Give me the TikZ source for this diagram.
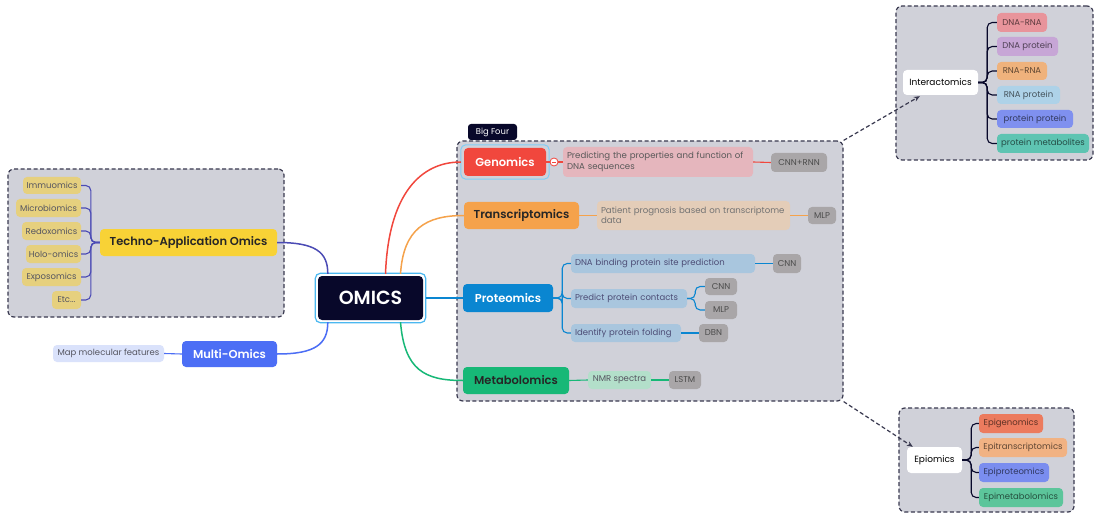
\documentclass[tikz,border=0pt]{standalone}
\usepackage{fontspec}
\setmainfont{Poppins}
\newfontfamily\hdfont{Poppins SemiBold}
\usetikzlibrary{calc,arrows.meta}
\definecolor{boxfill}{HTML}{D0D1D9}
\definecolor{boxline}{HTML}{3A3A50}
\definecolor{navy}{HTML}{08082A}
\definecolor{skyb}{HTML}{4BB8F0}
\definecolor{yelleaf}{HTML}{E6D07E}
\definecolor{yelmain}{HTML}{F8D236}
\definecolor{indig}{HTML}{4B4BB5}
\definecolor{multib}{HTML}{4C6EF5}
\definecolor{multil}{HTML}{DAE2FB}
\definecolor{redm}{HTML}{F1473D}
\definecolor{redl}{HTML}{E5B6BD}
\definecolor{orgm}{HTML}{F5A24B}
\definecolor{orgl}{HTML}{E4CDB8}
\definecolor{blum}{HTML}{0A86D1}
\definecolor{blul}{HTML}{A9C6DE}
\definecolor{grnm}{HTML}{17B877}
\definecolor{grnl}{HTML}{B3DFCA}
\definecolor{grayb}{HTML}{A9A6A8}
\definecolor{txtg}{HTML}{555560}
\definecolor{iA}{HTML}{E8949B}
\definecolor{iB}{HTML}{C7A6D6}
\definecolor{iC}{HTML}{EFB27C}
\definecolor{iD}{HTML}{AED2E8}
\definecolor{iE}{HTML}{7F90EF}
\definecolor{iF}{HTML}{5EC4B2}
\definecolor{eA}{HTML}{EC7B5E}
\definecolor{eB}{HTML}{F1B283}
\definecolor{eC}{HTML}{7A8DEF}
\definecolor{eD}{HTML}{5CC59B}
\begin{document}
\begin{tikzpicture}[x=1pt,y=-1pt,
  bx/.style={rounded corners=4pt, inner sep=0pt, align=center},
  sm/.style={bx, font=\fontsize{8.5}{9.5}\selectfont, text=txtg},
  hd/.style={bx, font=\hdfont\fontsize{11.5}{13}\selectfont},
  lft/.style={sm, align=left, text width=#1, inner xsep=4pt},
  gb/.style={sm, fill=grayb, text=black!70},
  dashbox/.style={draw=boxline, fill=boxfill, dash pattern=on 4pt off 2.5pt, line width=1.2pt, rounded corners=6pt, inner sep=0pt},
  lnk/.style={line width=1.1pt},
  dlnk/.style={draw=boxline, line width=1.2pt, dash pattern=on 4pt off 2.5pt, -{Stealth[length=6pt,width=5pt]}}
]
\useasboundingbox (0,0) rectangle (1097,513);
\fill[white] (0,0) rectangle (1097,513);

% dashed containers
\node[dashbox, minimum width=276, minimum height=148] (leftbox) at (146,243) {};
\node[dashbox, minimum width=386, minimum height=260] (bigfour) at (650,271) {};
\node[dashbox, minimum width=197, minimum height=154] (interbox) at (994.5,83) {};
\node[dashbox, minimum width=175, minimum height=104] (epibox) at (986.5,460) {};

% Big Four label
\node[bx, fill=navy, text=white, font=\fontsize{8.4}{9}\selectfont, minimum width=49, minimum height=16, rounded corners=3pt] (bflabel) at (492.5,132) {Big Four};

% left: techno-application
\node[hd, fill=yelmain, text=black!85, minimum width=177, minimum height=27] (techno) at (188.5,242.5) {Techno-Application Omics};
\node[sm, fill=yelleaf, minimum width=58, minimum height=17] (l1) at (52,185.5) {Immuomics};
\node[sm, fill=yelleaf, minimum width=65, minimum height=18] (l2) at (48.5,208) {Microbiomics};
\node[sm, fill=yelleaf, minimum width=59, minimum height=18] (l3) at (51.5,231) {Redoxomics};
\node[sm, fill=yelleaf, minimum width=55, minimum height=18] (l4) at (53.5,254) {Holo-omics};
\node[sm, fill=yelleaf, minimum width=59, minimum height=18] (l5) at (51.5,277) {Exposomics};
\node[sm, fill=yelleaf, minimum width=29, minimum height=18] (l6) at (66.5,300) {Etc...};
\foreach \n in {l1,l2,l3,l4,l5,l6}
  \draw[indig, lnk, rounded corners=5pt] (techno.west) -- ++(-9,0) |- (\n.east);

% multi-omics
\node[hd, fill=multib, text=white, minimum width=95, minimum height=26] (multi) at (229.5,354) {Multi-Omics};
\node[sm, fill=multil, minimum width=111, minimum height=17] (mapm) at (108.5,353.5) {Map molecular features};
\draw[multib, lnk] (mapm.east) -- (multi.west);

% OMICS
\node[bx, fill=navy, text=white, font=\hdfont\fontsize{19}{22}\selectfont, minimum width=105, minimum height=44] (omics) at (370.5,298) {OMICS};
\draw[skyb, line width=1.2pt, rounded corners=5pt] ($(omics.south west)+(-2.5,2.5)$) rectangle ($(omics.north east)+(2.5,-2.5)$);

% Big four main nodes
\node[hd, fill=redm, text=white, minimum width=82, minimum height=28] (genom) at (505,162) {Genomics};
\draw[skyb!70, line width=1pt, rounded corners=5pt] ($(genom.south west)+(-3,3)$) rectangle ($(genom.north east)+(3,-3)$);
\node[hd, fill=orgm, text=black!85, minimum width=115, minimum height=27] (transc) at (521.5,215.5) {Transcriptomics};
\node[hd, fill=blum, text=white, minimum width=90, minimum height=28] (prot) at (508,298) {Proteomics};
\node[hd, fill=grnm, text=black!85, minimum width=106, minimum height=27] (metab) at (516,380.5) {Metabolomics};

% connectors from OMICS
\draw[indig, line width=1.5pt] (techno.east) .. controls +(38,0) and +(0,-22) .. ($(omics.north west)+(10,-2)$);
\draw[multib, line width=1.5pt] (multi.east) .. controls +(38,0) and +(0,22) .. ($(omics.south west)+(10,2)$);
\draw[redm, line width=1.5pt] ($(omics.north)+(15,-2)$) .. controls +(3,-80) and +(-40,0) .. ($(genom.west)+(-3,0)$);
\draw[orgm, line width=1.5pt] ($(omics.north)+(30,-2)$) .. controls +(3,-45) and +(-38,0) .. (transc.west);
\draw[blum, line width=1.5pt] ($(omics.east)+(2.5,0)$) -- (prot.west);
\draw[grnm, line width=1.5pt] ($(omics.south)+(30,2)$) .. controls +(4,48) and +(-38,0) .. (metab.west);

% genomics branch
\node[circle, draw=redm, fill=white, minimum size=8pt, inner sep=0pt, line width=0.8pt] (gmin) at (554,162) {};
\draw[redm, line width=0.8pt] ($(gmin.center)+(-2.2,0)$) -- ($(gmin.center)+(2.2,0)$);
\node[lft=182, fill=redl, text=black!65, minimum height=30, font=\fontsize{8.6}{10.5}\selectfont] (gtext) at (658,162) {Predicting the properties and function of\\DNA sequences};
\node[gb, minimum width=56, minimum height=19] (gcnn) at (799,162.5) {CNN+RNN};
\draw[redm, lnk] (genom.east) -- (gmin.west);
\draw[redm, lnk] (gmin.east) -- (gtext.west);
\draw[redm, lnk] (gtext.east) -- (gcnn.west);

% transcriptomics branch
\node[lft=185, fill=orgl, text=black!55, minimum height=29, font=\fontsize{8.6}{10.5}\selectfont] (ttext) at (693.5,215.5) {Patient prognosis based on transcriptome\\data};
\node[gb, minimum width=28, minimum height=17] (tmlp) at (822,215.5) {MLP};
\draw[orgm, lnk] (transc.east) -- (ttext.west);
\draw[orgm, lnk] (ttext.east) -- (tmlp.west);

% proteomics branch
\node[lft=176, fill=blul, text=black!60!blue!40!gray, minimum height=19] (p1) at (663,263.5) {DNA binding protein site prediction};
\node[lft=108, fill=blul, text=black!60!blue!40!gray, minimum height=19] (p2) at (629,298.5) {Predict protein contacts};
\node[lft=102, fill=blul, text=black!60!blue!40!gray, minimum height=18] (p3) at (626,333) {Identify protein folding};
\node[gb, minimum width=28, minimum height=19] (pc1) at (787,263.5) {CNN};
\node[gb, minimum width=32, minimum height=17] (pc2) at (721,286.5) {CNN};
\node[gb, minimum width=32, minimum height=18] (pm2) at (721,310) {MLP};
\node[gb, minimum width=29, minimum height=18] (pd3) at (713.5,333) {DBN};
\foreach \n in {p1,p2,p3}
  \draw[blum, lnk, rounded corners=5pt] (prot.east) -- ++(9,0) |- (\n.west);
\draw[blum, lnk] (p1.east) -- (pc1.west);
\draw[blum, lnk, rounded corners=5pt] (p2.east) -- ++(8,0) |- (pc2.west);
\draw[blum, lnk, rounded corners=5pt] (p2.east) -- ++(8,0) |- (pm2.west);
\draw[blum, lnk] (p3.east) -- (pd3.west);

% metabolomics branch
\node[sm, fill=grnl, minimum width=63, minimum height=18] (nmr) at (619.5,380) {NMR spectra};
\node[gb, minimum width=32, minimum height=18] (lstm) at (685,380) {LSTM};
\draw[grnm, lnk] (metab.east) -- (nmr.west);
\draw[grnm, lnk] (nmr.east) -- (lstm.west);

% interactomics
\node[bx, fill=white, font=\fontsize{9}{10}\selectfont, minimum width=75, minimum height=25] (inter) at (940.5,82.5) {Interactomics};
\node[sm, fill=iA, text=iA!40!black, minimum width=50, minimum height=19] (i1) at (1022,22.5) {DNA-RNA};
\node[sm, fill=iB, text=iB!40!black, minimum width=61, minimum height=19] (i2) at (1027.5,46.5) {DNA protein};
\node[sm, fill=iC, text=iC!40!black, minimum width=50, minimum height=18] (i3) at (1022,71) {RNA-RNA};
\node[sm, fill=iD, text=iD!40!black, minimum width=63, minimum height=18] (i4) at (1028.5,95) {RNA protein};
\node[sm, fill=iE, text=iE!40!black, minimum width=76, minimum height=18] (i5) at (1035,119) {protein protein};
\node[sm, fill=iF, text=iF!40!black, minimum width=92, minimum height=19] (i6) at (1043,143.5) {protein metabolites};
\foreach \n in {i1,i2,i3,i4,i5,i6}
  \draw[navy, lnk, rounded corners=5pt] (inter.east) -- ++(9,0) |- (\n.west);

% epiomics
\node[bx, fill=white, font=\fontsize{9}{10}\selectfont, minimum width=55, minimum height=26] (epi) at (934.5,460) {Epiomics};
\node[sm, fill=eA, text=eA!40!black, minimum width=64, minimum height=19] (e1) at (1011,423.5) {Epigenomics};
\node[sm, fill=eB, text=eB!40!black, minimum width=88, minimum height=19] (e2) at (1023,447.5) {Epitranscriptomics};
\node[sm, fill=eC, text=eC!40!black, minimum width=70, minimum height=19] (e3) at (1014,472.5) {Epiproteomics};
\node[sm, fill=eD, text=eD!40!black, minimum width=84, minimum height=19] (e4) at (1021,497.5) {Epimetabolomics};
\foreach \n in {e1,e2,e3,e4}
  \draw[navy, lnk, rounded corners=5pt] (epi.east) -- ++(9,0) |- (\n.west);

% dashed arrows
\draw[dlnk] (bigfour.north east) -- ($(inter.south west)+(17,1)$);
\draw[dlnk] (bigfour.south east) -- ($(epi.north west)+(6,0)$);
\end{tikzpicture}
\end{document}
